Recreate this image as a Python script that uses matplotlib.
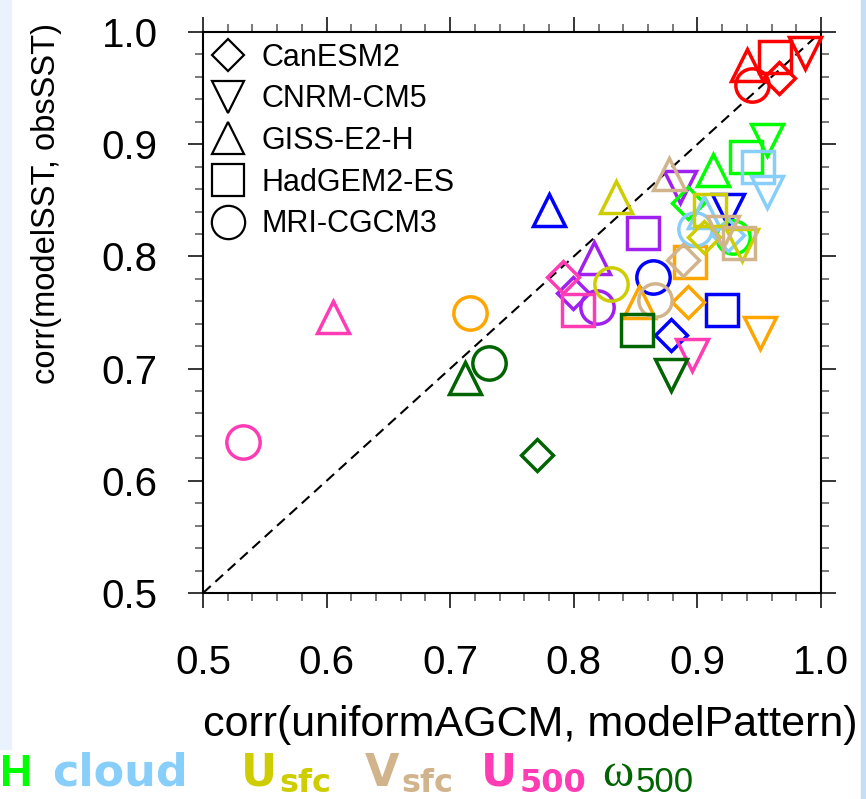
import numpy as np
import matplotlib.pyplot as plt
from matplotlib.lines import Line2D
from matplotlib.patches import Rectangle

plt.rcParams['font.family'] = ['Liberation Sans', 'DejaVu Sans']

# models -> marker shapes
models = ['CanESM2', 'CNRM-CM5', 'GISS-E2-H', 'HadGEM2-ES', 'MRI-CGCM3']
markers = ['D', 'v', '^', 's', 'o']

# one x list and one y list per field, in the model order above
x_red = [0.966, 0.987, 0.940, 0.963, 0.944]
y_red = [0.959, 0.981, 0.971, 0.978, 0.953]
x_blue = [0.879, 0.925, 0.780, 0.920, 0.864]
y_blue = [0.730, 0.841, 0.841, 0.752, 0.782]
x_orange = [0.892, 0.951, 0.853, 0.894, 0.716]
y_orange = [0.759, 0.732, 0.759, 0.795, 0.750]
x_purple = [0.799, 0.886, 0.816, 0.856, 0.819]
y_purple = [0.767, 0.862, 0.799, 0.821, 0.755]
x_rh = [0.892, 0.956, 0.913, 0.939, 0.929]
y_rh = [0.848, 0.904, 0.877, 0.889, 0.817]
x_cloud = [0.925, 0.956, 0.905, 0.949, 0.898]
y_cloud = [0.819, 0.857, 0.840, 0.880, 0.824]
x_usfc = [0.905, 0.936, 0.834, 0.910, 0.830]
y_usfc = [0.817, 0.810, 0.853, 0.841, 0.775]
x_vsfc = [0.888, 0.921, 0.877, 0.934, 0.866]
y_vsfc = [0.797, 0.822, 0.873, 0.812, 0.761]
x_u500 = [0.791, 0.896, 0.605, 0.803, 0.532]
y_u500 = [0.782, 0.712, 0.746, 0.752, 0.635]
x_w500 = [0.770, 0.879, 0.712, 0.851, 0.731]
y_w500 = [0.623, 0.694, 0.692, 0.734, 0.705]

fields_x = [x_red, x_blue, x_orange, x_purple, x_rh, x_cloud, x_usfc, x_vsfc, x_u500, x_w500]
fields_y = [y_red, y_blue, y_orange, y_purple, y_rh, y_cloud, y_usfc, y_vsfc, y_u500, y_w500]
colors = ['#FF0000', '#0000FF', '#FFA500', '#A020F0', '#00FF00',
          '#87CEFA', '#CDCD00', '#D2B48C', '#FF3CB4', '#006400']

# colour key (only the part that is visible in the picture)
key_main = ['H', 'cloud', 'U', 'V', 'U', '\u03c9']
key_sub = ['', '', 'sfc', 'sfc', '500', '500']
key_colors = ['#00FF00', '#87CEFA', '#CDCD00', '#D2B48C', '#FF3CB4', '#006400']

W, H = 866, 799
fig = plt.figure(figsize=(W / 100, H / 100), dpi=100)

# light blue slide edges
fig.patches.append(Rectangle((0, 50 / H), 11 / W, 1, transform=fig.transFigure,
                             color='#EAF3FD', zorder=-5))
fig.patches.append(Rectangle((861 / W, 0), 5 / W, 1, transform=fig.transFigure,
                             color='#C6DFF6', zorder=-5))

ax = fig.add_axes([203 / W, 1 - 593 / H, 618 / W, 561 / H])
ax.plot([0.5, 1.0], [0.5, 1.0], color='k', ls='--', lw=1.5, dashes=(5, 3), zorder=1)

sizes = {'D': 16, 'v': 23, '^': 23, 's': 22.5, 'o': 24}
for fx, fy, c in zip(fields_x, fields_y, colors):
    for xv, yv, m in zip(fx, fy, markers):
        ax.plot(xv, yv, marker=m, ms=sizes[m], mfc='none', mec=c, mew=2.5,
                ls='none', clip_on=False, zorder=3)

ax.set_xlim(0.5, 1.0)
ax.set_ylim(0.5, 1.0)
ticks = [0.5, 0.6, 0.7, 0.8, 0.9, 1.0]
ax.set_xticks(ticks)
ax.set_yticks(ticks)
ax.set_xticklabels(['0.5', '0.6', '0.7', '0.8', '0.9', '1.0'])
ax.set_yticklabels(['0.5', '0.6', '0.7', '0.8', '0.9', '1.0'])
ax.set_xticks(np.arange(0.5, 1.001, 0.02), minor=True)
ax.set_yticks(np.arange(0.5, 1.001, 0.02), minor=True)
ax.tick_params(which='both', direction='out', top=True, right=True, width=1.1)
ax.tick_params(which='major', length=10.5, labelsize=29)
ax.tick_params(axis='x', which='major', pad=26)
ax.tick_params(axis='y', which='major', pad=22)
ax.tick_params(which='minor', length=5.5, color='#555555')
for s in ax.spines.values():
    s.set_linewidth(1.5)

ax.set_xlabel('corr(uniformAGCM, modelPattern)', fontsize=31)
ax.xaxis.set_label_coords(0.53, -0.2)
ax.set_ylabel('corr(modelSST, obsSST)', fontsize=23.5)
ax.yaxis.set_label_coords(-0.228, 0.695)

handles = [Line2D([], [], marker=m, ls='none', mfc='none', mec='k', mew=1.6,
                  ms=sizes[m]) for m in markers]
ax.legend(handles, models, loc='upper left', frameon=False, fontsize=22,
          bbox_to_anchor=(-0.024, 1.016), borderaxespad=0.25, handletextpad=0.45,
          labelspacing=0.38, handlelength=1.3)

# colour key row at the bottom
key_x = [0, 52, 241, 365, 481, 602]
r = fig.canvas.get_renderer()
for main, sub, c, px in zip(key_main, key_sub, key_colors, key_x):
    if main == '\u03c9':
        t = fig.text(px / W, 1 - 786 / H, main, color=c, fontsize=34, va='baseline',
                     family=['Liberation Serif', 'DejaVu Serif'])
        sub_kw = dict(weight='normal', family=['Liberation Sans'], fontsize=25)
    else:
        t = fig.text(px / W, 1 - 786 / H, main, color=c, fontsize=32,
                     va='baseline', weight='bold',
                     family=['Liberation Sans'] if main == 'H' else ['DejaVu Sans'])
        sub_kw = dict(weight='bold', family=['DejaVu Sans'], fontsize=23)
    if sub:
        bb = t.get_window_extent(r)
        fig.text((bb.x1 + 2) / W, 1 - 792 / H, sub, color=c, va='baseline', **sub_kw)

fig.savefig('out.png', dpi=100)
